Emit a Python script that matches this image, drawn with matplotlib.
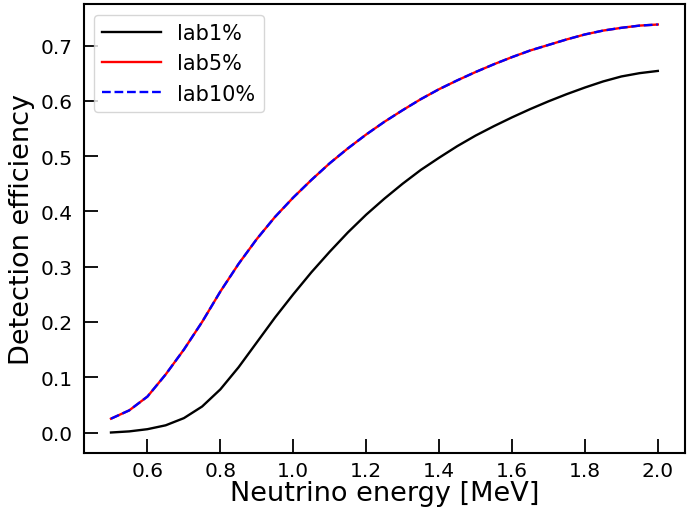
import numpy as np
import matplotlib
import matplotlib.pyplot as plt

matplotlib.use('Agg')

# neutrino energy grid [MeV]
energy = [0.50, 0.55, 0.60, 0.65, 0.70, 0.75, 0.80, 0.85, 0.90, 0.95,
          1.00, 1.05, 1.10, 1.15, 1.20, 1.25, 1.30, 1.35, 1.40, 1.45,
          1.50, 1.55, 1.60, 1.65, 1.70, 1.75, 1.80, 1.85, 1.90, 1.95, 2.00]

# detection efficiency per concentration
eff_lab1 = [0.000, 0.002, 0.006, 0.013, 0.026, 0.047, 0.078, 0.118, 0.163, 0.208,
            0.250, 0.290, 0.327, 0.362, 0.394, 0.423, 0.450, 0.475, 0.497, 0.518,
            0.537, 0.554, 0.570, 0.585, 0.599, 0.612, 0.624, 0.635, 0.644, 0.650, 0.654]
eff_lab5 = [0.025, 0.040, 0.065, 0.105, 0.150, 0.200, 0.255, 0.305, 0.350, 0.390,
            0.425, 0.457, 0.487, 0.514, 0.539, 0.562, 0.583, 0.603, 0.621, 0.637,
            0.652, 0.666, 0.679, 0.691, 0.701, 0.711, 0.720, 0.727, 0.732, 0.736, 0.738]
eff_lab10 = list(eff_lab5)

plt.figure(figsize=(6.97, 5.1), dpi=100)
ax = plt.gca()
plt.plot(energy, eff_lab1, color='black', lw=1.7, label='lab1%')
plt.plot(energy, eff_lab5, color='red', lw=1.7, label='lab5%')
plt.plot(energy, eff_lab10, color='blue', lw=1.7, ls='--', label='lab10%')

plt.xlabel('Neutrino energy [MeV]', fontsize=19.5, labelpad=0)
plt.ylabel('Detection efficiency', fontsize=19.5)
plt.xticks([0.6, 0.8, 1.0, 1.2, 1.4, 1.6, 1.8, 2.0])
plt.tick_params(direction='in', length=10, width=1.3, labelsize=14.5, pad=8)
plt.tick_params(axis='x', pad=6)
for s in ax.spines.values():
    s.set_linewidth(1.5)
plt.legend(loc='upper left', fontsize=15, handlelength=2.8)
plt.subplots_adjust(left=0.12, right=0.983, top=0.99, bottom=0.11)
plt.savefig('out.png', dpi=100)
plt.close()
